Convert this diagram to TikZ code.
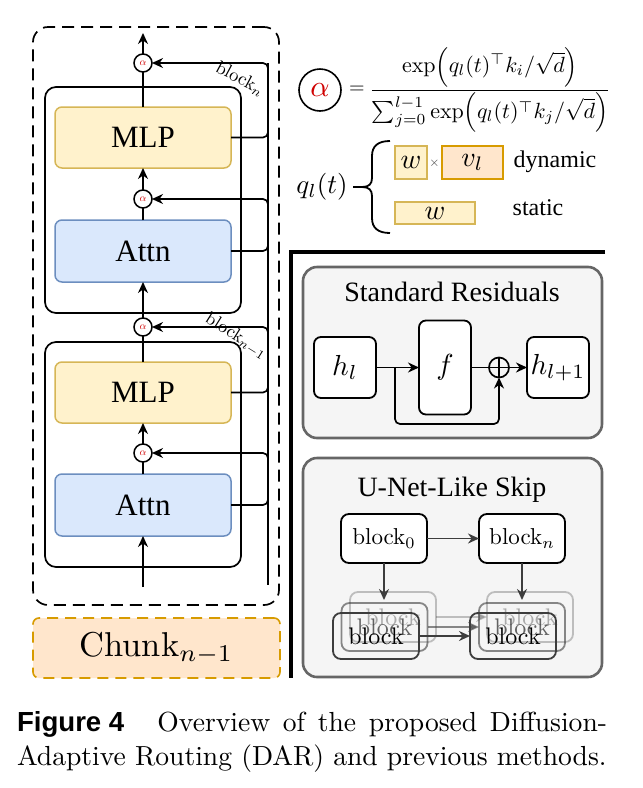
\documentclass[tikz,border=0pt]{standalone}
\usepackage{amsmath}
\usepackage{fontspec}
\usepackage{graphicx}
\newfontfamily\tms{Liberation Serif}
\newfontfamily\hvs{Liberation Sans}
\usetikzlibrary{arrows.meta,calc}
\definecolor{ylwF}{HTML}{FFF2CC}
\definecolor{ylwD}{HTML}{D6B656}
\definecolor{bluF}{HTML}{DAE8FC}
\definecolor{bluD}{HTML}{6C8EBF}
\definecolor{orgF}{HTML}{FFE6CC}
\definecolor{orgD}{HTML}{D79B00}
\definecolor{grpF}{HTML}{F5F5F5}
\definecolor{grpD}{HTML}{666666}
\definecolor{alred}{HTML}{D00000}
\definecolor{stk}{HTML}{3D3D3D}
\newcommand{\SB}[2]{\scalebox{#1}{#2}}
\begin{document}
\begin{tikzpicture}[x=1pt,y=-1pt,
  every node/.style={inner sep=0pt, outer sep=0pt},
  conn/.style={line width=1.7pt},
  arr/.style={conn,-{Stealth[length=11pt,width=10pt]}},
  outerbox/.style={draw, line width=1.7pt, dash pattern=on 12pt off 7pt, rounded corners=15pt},
  blockbox/.style={draw, line width=1.7pt, rounded corners=11pt, minimum width=196pt},
  mlpbox/.style={draw=ylwD, fill=ylwF, line width=1.5pt, rounded corners=7pt, minimum width=176pt, minimum height=61pt, font=\tms\fontsize{31}{36}\selectfont},
  attnbox/.style={draw=bluD, fill=bluF, line width=1.5pt, rounded corners=7pt, minimum width=176pt, minimum height=62pt, font=\tms\fontsize{31}{36}\selectfont},
  alph/.style={circle, draw, fill=white, line width=1.5pt, minimum size=18pt},
  chunkbox/.style={draw=orgD, fill=orgF, line width=1.6pt, dash pattern=on 11pt off 7pt, rounded corners=6pt},
  ybox/.style={draw=ylwD, fill=ylwF, line width=1.5pt},
  obox/.style={draw=orgD, fill=orgF, line width=1.8pt},
  grpbox/.style={draw=grpD, fill=grpF, line width=2.6pt, rounded corners=14pt},
  wbox/.style={draw, fill=white, line width=1.8pt, rounded corners=7pt},
  ubox/.style={draw, fill=white, line width=1.8pt, rounded corners=8pt, minimum width=86pt, minimum height=49pt},
  sbox/.style={draw=stk, line width=1.8pt, rounded corners=8pt, minimum width=86pt},
  uarr/.style={line width=1.7pt, draw=stk, -{Stealth[length=11pt,width=10pt]}},
  sep/.style={line width=3.5pt}
]
\fill[white] (0,0) rectangle (643,788);
\useasboundingbox (0,0) rectangle (643,788);

% ---------- left panel ----------
\node[outerbox, minimum width=246pt, minimum height=578pt] (outer) at (156,316) {};
\node[blockbox, minimum height=226pt] (blkN) at (143,200) {};
\node[blockbox, minimum height=225pt] (blkM) at (143,454.5) {};
\node[mlpbox] (mlpA) at (143,137.5) {MLP};
\node[attnbox] (attnA) at (143,251) {Attn};
\node[mlpbox] (mlpB) at (143,392.5) {MLP};
\node[attnbox] (attnB) at (143,505) {Attn};

\coordinate (outT) at (143,33);
\coordinate (inB) at (143,587);
\coordinate (busT) at (268,63);
\coordinate (busB) at (268,585);

\node[alph] (aA) at (143,63) {\SB{1.05}{\textcolor{alred}{$\alpha$}}};
\node[alph] (aB) at (143,199) {\SB{1.05}{\textcolor{alred}{$\alpha$}}};
\node[alph] (aC) at (143,327) {\SB{1.05}{\textcolor{alred}{$\alpha$}}};
\node[alph] (aD) at (143,453) {\SB{1.05}{\textcolor{alred}{$\alpha$}}};

\draw[conn] (busT) -- (busB);
\draw[arr] (aA.north) -- (outT);
\draw[conn] (mlpA.north) -- (aA.south);
\draw[arr] (aB.north) -- (mlpA.south);
\draw[conn] (attnA.north) -- (aB.south);
\draw[arr] (aC.north) -- (attnA.south);
\draw[conn] (mlpB.north) -- (aC.south);
\draw[arr] (aD.north) -- (mlpB.south);
\draw[conn] (attnB.north) -- (aD.south);
\draw[arr] (inB) -- (attnB.south);

\draw[arr, rounded corners=5pt] (mlpA.east) -- ++(37,0) |- (aA.east);
\draw[arr, rounded corners=5pt] (attnA.east) -- ++(37,0) |- (aB.east);
\draw[arr, rounded corners=5pt] (mlpB.east) -- ++(37,0) |- (aC.east);
\draw[arr, rounded corners=5pt] (attnB.east) -- ++(37,0) |- (aD.east);

\node[rotate=-28] (lbN) at (240,79) {\SB{1.85}{block$_n$}};
\node[rotate=-32] (lbM) at (236,336) {\SB{1.8}{block$_{n-1}$}};

\node[chunkbox, minimum width=247pt, minimum height=60pt] (chunk) at (156.5,648) {\SB{3.45}{Chunk$_{n-1}$}};

% ---------- formula ----------
\node[circle, draw, line width=1.6pt, minimum size=42pt] (bigA) at (320,90) {\SB{3.0}{\textcolor{alred}{$\alpha$}}};
\node (eqs) at (357,90) {\SB{2.0}{$=$}};
\node (eqn) at (490,90) {\SB{2.2}{$\dfrac{\exp\Bigl(q_l(t)^{\top}k_i/\sqrt{d}\Bigr)}{\sum\nolimits_{j=0}^{l-1}\exp\Bigl(q_l(t)^{\top}k_j/\sqrt{d}\Bigr)}$}};

\node (ql) at (322,187) {\SB{2.7}{$q_l(t)$}};
\draw[line width=1.8pt] (390,141) .. controls (378,141) and (372,146) .. (372,156) -- (372,178)
  .. controls (372,184) and (369,187) .. (362,187) -- (353,187)
  (362,187) .. controls (369,187) and (372,190) .. (372,196) -- (372,218)
  .. controls (372,228) and (378,233) .. (390,233);
\node[ybox, minimum width=32pt, minimum height=33pt] (wA) at (411,162.5) {\SB{2.8}{$w$}};
\node (tim) at (434.5,163) {\SB{1.3}{\textcolor{stk}{$\times$}}};
\node[obox, minimum width=61pt, minimum height=33pt] (vl) at (472.5,162.5) {\SB{2.8}{$v_l$}};
\node (dyn) at (555,162) {\tms\fontsize{24}{28}\selectfont dynamic};
\node[ybox, minimum width=80pt, minimum height=22pt] (wB) at (435,213) {\SB{2.8}{$w$}};
\node (stat) at (538,208) {\tms\fontsize{24}{28}\selectfont static};

% ---------- separators ----------
\draw[sep] (605,252) -- (291,252) -- (291,678);

% ---------- standard residuals ----------
\node[grpbox, minimum width=299pt, minimum height=171pt] (srbox) at (452.5,352.5) {};
\node (srT) at (452,292) {\tms\fontsize{28}{32}\selectfont Standard Residuals};
\node[wbox, minimum width=62pt, minimum height=61pt] (hl) at (345,367.5) {\SB{2.9}{$h_l$}};
\node[wbox, minimum width=52pt, minimum height=94pt] (fbox) at (445,367.5) {\SB{2.9}{$f$}};
\node[circle, draw, line width=1.7pt, minimum size=20pt,
  path picture={\draw[line width=1.7pt] (path picture bounding box.north) -- (path picture bounding box.south)
  (path picture bounding box.west) -- (path picture bounding box.east);}] (op) at (499,367.5) {};
\node[wbox, minimum width=62pt, minimum height=61pt] (hl1) at (558,367.5) {\SB{2.9}{$h_{l+1}$}};
\coordinate (br) at (395,367.5);
\draw[arr] (hl.east) -- (fbox.west);
\draw[arr, rounded corners=5pt] (br) -- ++(0,56.5) -| (op.south);
\draw[conn] (fbox.east) -- (op.west);
\draw[arr] (op.east) -- (hl1.west);

% ---------- U-Net-like skip ----------
\node[grpbox, minimum width=299pt, minimum height=219pt] (unbox) at (452.5,567.5) {};
\node (unT) at (452,490) {\tms\fontsize{28}{32}\selectfont U-Net-Like Skip};
\node[ubox] (b0) at (384,538.5) {\SB{2.3}{block$_0$}};
\node[ubox] (bn) at (522,538.5) {\SB{2.3}{block$_n$}};
\draw[uarr] (b0.east) -- (bn.west);
\coordinate (dL) at (385,600);
\coordinate (dR) at (522,600);
\draw[uarr] (b0.south) -- (b0.south |- dL);
\draw[uarr] (bn.south) -- (bn.south |- dR);

\node[sbox, minimum height=50pt, draw opacity=.3, text opacity=.3] (sL3) at (393,617) {\SB{2.4}{block}};
\node[sbox, minimum height=48pt, draw opacity=.6, text opacity=.6] (sL2) at (384.5,627) {\SB{2.4}{block}};
\node[sbox, minimum height=46pt] (sL1) at (376,636) {\SB{2.4}{block}};
\node[sbox, minimum height=50pt, draw opacity=.3, text opacity=.3] (sR3) at (530,617) {\SB{2.4}{block}};
\node[sbox, minimum height=48pt, draw opacity=.6, text opacity=.6] (sR2) at (522,627) {\SB{2.4}{block}};
\node[sbox, minimum height=46pt] (sR1) at (513,636) {\SB{2.4}{block}};
\draw[uarr, draw opacity=.3, fill opacity=.3] (sL3.east) -- (sR3.west);
\draw[uarr, draw opacity=.6, fill opacity=.6] (sL2.east) -- (sR2.west);
\draw[uarr] (sL1.east) -- (sR1.west);

% ---------- caption ----------
\node[anchor=base west] (cap1) at (17,731) {\SB{2.76}{\makebox[213.8pt][s]{\mbox{\hvs\bfseries\fontsize{10}{12}\selectfont Figure 4}\kern12pt Overview of the proposed Diffusion-}}};
\node[anchor=base west] (cap2) at (17,765) {\SB{2.76}{Adaptive Routing (DAR) and previous methods.}};
\end{tikzpicture}
\end{document}
